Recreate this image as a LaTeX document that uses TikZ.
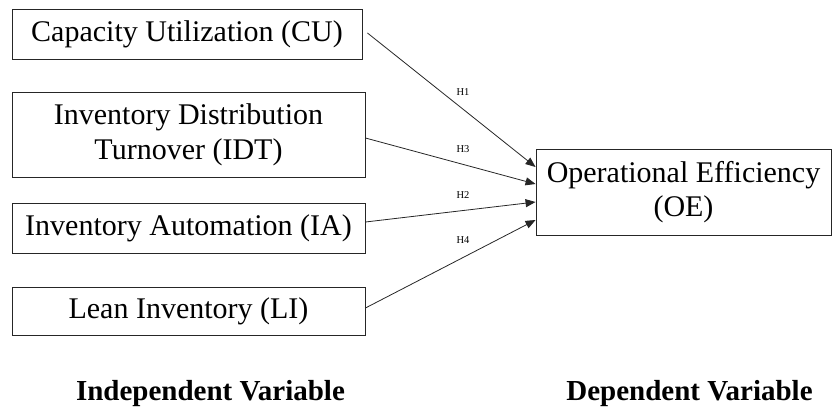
\documentclass[tikz,border=0pt]{standalone}
\usepackage{fontspec}
\setmainfont{Liberation Serif}
\usetikzlibrary{arrows.meta}
\tikzset{
  varbox/.style={draw=black!85, line width=0.9pt, inner sep=0pt, align=center,
    font=\fontsize{30}{34.5}\selectfont},
  hyp/.style={draw=black!85, line width=0.8pt, -{Triangle[length=10pt,width=8pt]}},
  hlabel/.style={inner sep=0pt, font=\fontsize{10.5}{12}\selectfont},
  caption/.style={inner sep=0pt, anchor=base, font=\fontsize{29}{33}\selectfont\bfseries}
}
\begin{document}
\begin{tikzpicture}[x=1pt,y=-1pt]
\useasboundingbox (0,0) rectangle (833,410);
\node[varbox, minimum width=350pt, minimum height=50pt] (CU) at (187,34) {Capacity Utilization (CU)};
\node[varbox, minimum width=353pt, minimum height=85pt] (IDT) at (188.5,135) {Inventory Distribution\\Turnover (IDT)};
\node[varbox, minimum width=353pt, minimum height=50pt] (IA) at (188.5,228) {Inventory Automation (IA)};
\node[varbox, minimum width=353pt, minimum height=48pt] (LI) at (188.5,311) {Lean Inventory (LI)};
\node[varbox, minimum width=295pt, minimum height=86pt] (OE) at (683.5,192) {Operational Efficiency\\(OE)};

\draw[hyp] ([xshift=5pt,yshift=1pt]CU.east) -- ([yshift=25pt]OE.west);
\draw[hyp] ([yshift=-3pt]IDT.east) -- ([yshift=8pt]OE.west);
\draw[hyp] ([yshift=6pt]IA.east) -- ([yshift=-10pt]OE.west);
\draw[hyp] ([yshift=3pt]LI.east) -- ([yshift=-28pt]OE.west);

\node[hlabel] (h1) at (463,92) {H1};
\node[hlabel] (h3) at (463,149) {H3};
\node[hlabel] (h2) at (463,195) {H2};
\node[hlabel] (h4) at (463,240) {H4};

\node[caption] (iv) at (210.5,400) {Independent Variable};
\node[caption] (dv) at (689.5,400) {Dependent Variable};
\end{tikzpicture}
\end{document}
